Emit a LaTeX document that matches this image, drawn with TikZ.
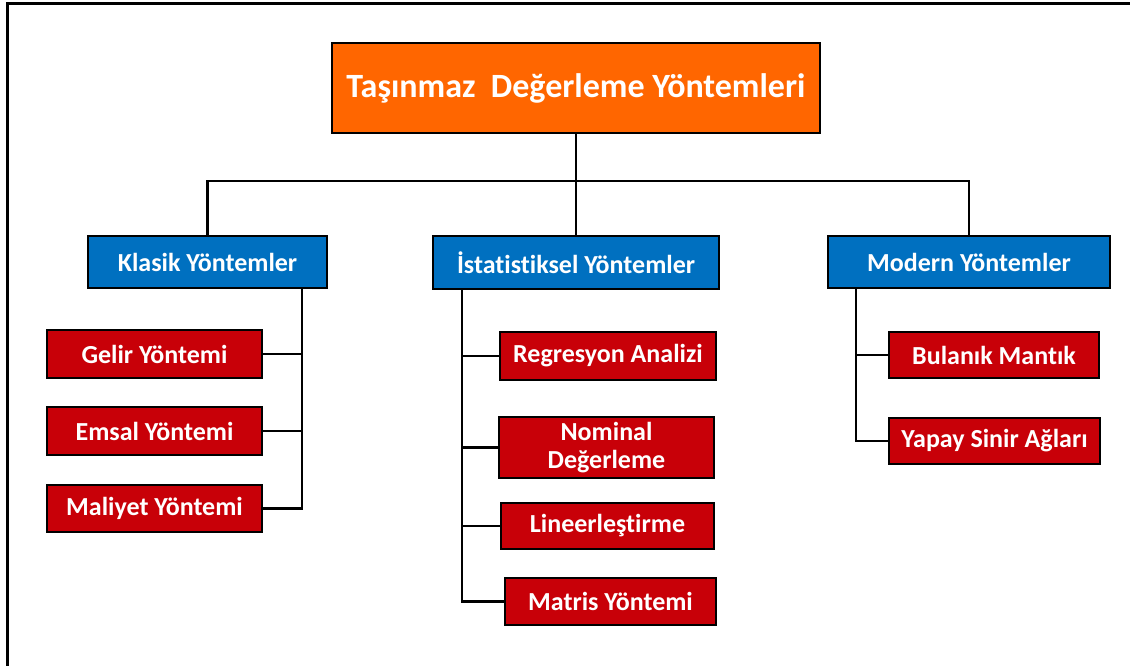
\documentclass[tikz,border=0pt]{standalone}
\usepackage{fontspec}
\setmainfont[Ligatures=NoCommon]{Carlito}
\definecolor{orangebox}{HTML}{FF6600}
\definecolor{bluebox}{HTML}{0070C0}
\definecolor{redbox}{HTML}{C80008}
\tikzset{
  base/.style={draw=black, line width=2.8pt, text=white, font=\bfseries, inner sep=0pt, align=center},
  titlebox/.style={base, fill=orangebox, font=\fontsize{34}{40}\selectfont\bfseries},
  groupbox/.style={base, fill=bluebox, font=\fontsize{26}{30}\selectfont\bfseries},
  itembox/.style={base, fill=redbox, font=\fontsize{26}{28}\selectfont\bfseries},
  link/.style={draw=black, line width=2.8pt},
  frame/.style={draw=black, line width=3pt}
}
\begin{document}
\begin{tikzpicture}[x=1pt, y=-1pt]
\useasboundingbox (0,0) rectangle (1130,666);
\draw[frame] (7,666) -- (7,4) -- (1130,4);

\node[titlebox, minimum width=488pt, minimum height=90pt] (title) at (576,88) {Taşınmaz\ \ Değerleme Yöntemleri};

\node[groupbox, minimum width=239pt, minimum height=52pt] (klasik) at (207.5,262) {Klasik Yöntemler};
\node[groupbox, minimum width=286pt, minimum height=53pt] (istat) at (576,262.5) {İstatistiksel Yöntemler};
\node[groupbox, minimum width=282pt, minimum height=52pt] (modern) at (969,262) {Modern Yöntemler};

\node[itembox, minimum width=215pt, minimum height=48pt] (gelir) at (154.5,354) {Gelir Yöntemi};
\node[itembox, minimum width=215pt, minimum height=48pt] (emsal) at (154.5,431) {Emsal Yöntemi};
\node[itembox, minimum width=215pt, minimum height=47pt] (maliyet) at (154.5,508.5) {Maliyet Yöntemi};

\node[itembox, minimum width=216pt, minimum height=48pt] (regresyon) at (608,356) {Regresyon Analizi};
\node[itembox, minimum width=215pt, minimum height=61pt, text width=205pt] (nominal) at (606.5,447.5) {Nominal\\Değerleme};
\node[itembox, minimum width=213pt, minimum height=46pt] (lineer) at (607.5,526) {Lineerleştirme};
\node[itembox, minimum width=211pt, minimum height=47pt] (matris) at (610.5,601.5) {Matris Yöntemi};

\node[itembox, minimum width=210pt, minimum height=46pt] (bulanik) at (994,355) {Bulanık Mantık};
\node[itembox, minimum width=211pt, minimum height=46pt] (yapay) at (994.5,441) {Yapay Sinir Ağları};

% top level connectors
\coordinate (hub) at (576,181);
\draw[link] (title.south) -- (hub);
\draw[link] (hub) -| (klasik.north);
\draw[link] (hub) -| (modern.north);
\draw[link] (hub) -- (istat.north);

% Klasik spine
\coordinate (kspine) at ([xshift=94.5pt]klasik.south);
\draw[link] (kspine) |- (maliyet.east);
\draw[link] (gelir.east) -- (gelir.east -| kspine);
\draw[link] (emsal.east) -- (emsal.east -| kspine);

% Istatistiksel spine
\coordinate (sspine) at ([xshift=-114pt]istat.south);
\draw[link] (sspine) |- (matris.west);
\draw[link] (regresyon.west) -- (regresyon.west -| sspine);
\draw[link] (nominal.west) -- (nominal.west -| sspine);
\draw[link] (lineer.west) -- (lineer.west -| sspine);

% Modern spine
\coordinate (mspine) at ([xshift=-113pt]modern.south);
\draw[link] (mspine) |- (yapay.west);
\draw[link] (bulanik.west) -- (bulanik.west -| mspine);
\end{tikzpicture}
\end{document}
